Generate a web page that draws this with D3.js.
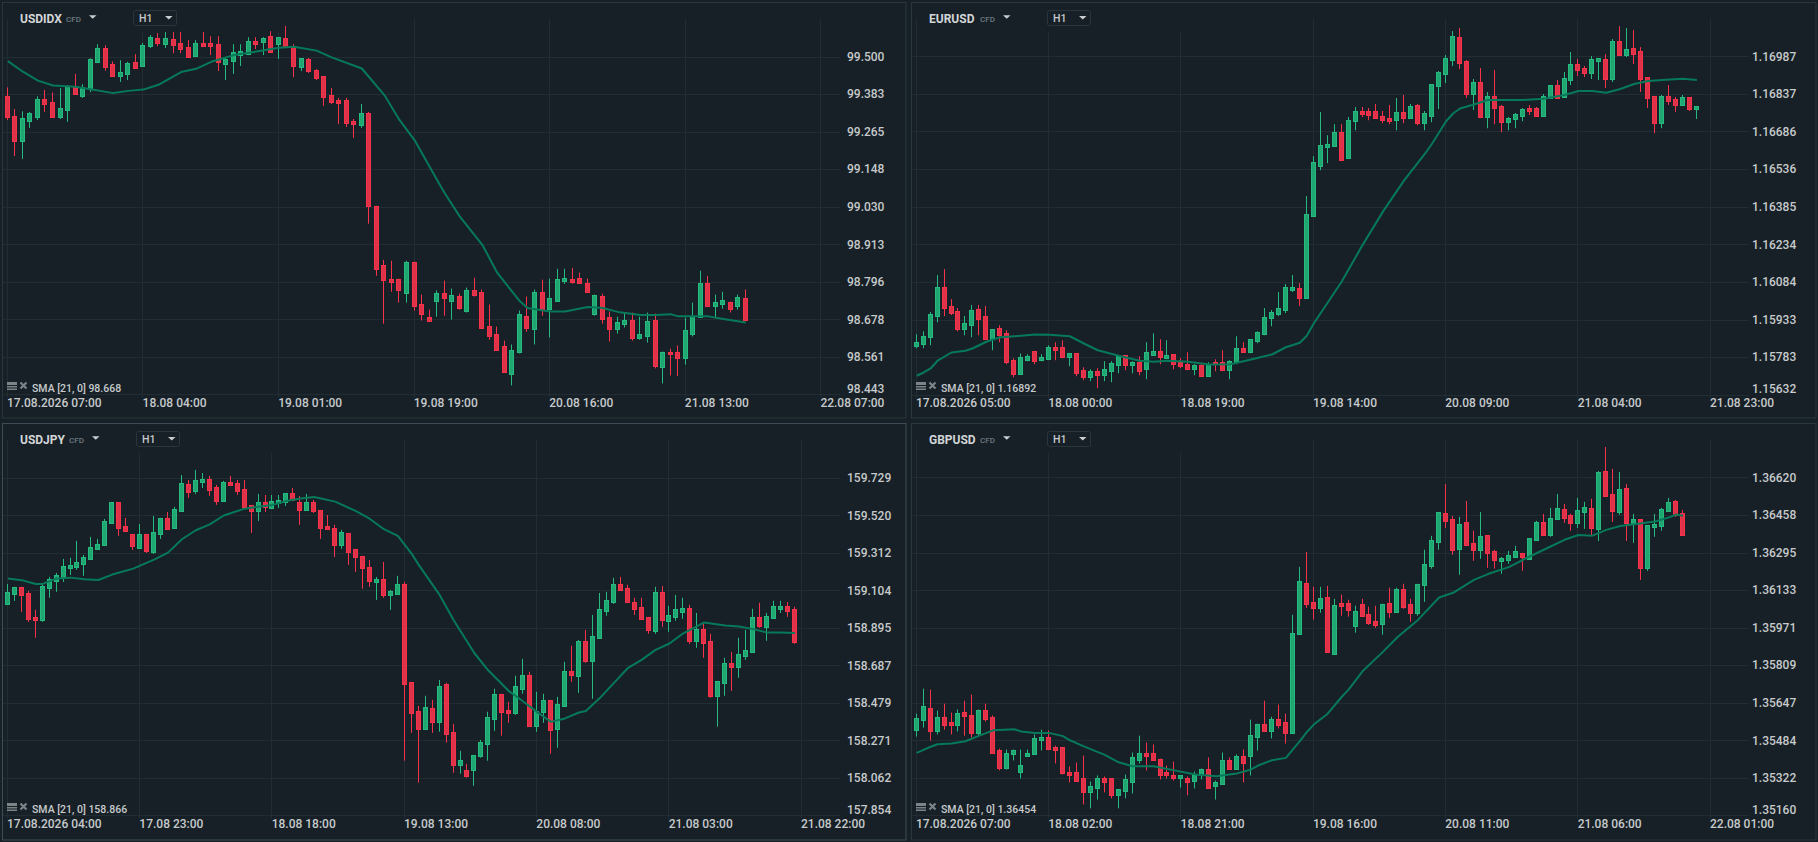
<!DOCTYPE html>
<html><head><meta charset="utf-8">
<script src="https://cdnjs.cloudflare.com/ajax/libs/d3/7.9.0/d3.min.js"></script>
<style>html,body{margin:0;padding:0;background:#172026;overflow:hidden}svg{display:block}text{font-family:Roboto,sans-serif}</style>
</head><body><svg id="c" width="1818" height="842"></svg>
<script>
// ---- values: each candle is [open, high, low, close] ----
const usdidxOhlc=[[99.377,99.404,99.302,99.312],[99.314,99.336,99.189,99.237],[99.237,99.329,99.180,99.308],[99.300,99.327,99.277,99.324],[99.312,99.376,99.302,99.368],[99.368,99.396,99.327,99.353],[99.358,99.388,99.312,99.312],[99.311,99.402,99.305,99.339],[99.334,99.411,99.296,99.408],[99.404,99.446,99.384,99.384],[99.377,99.414,99.371,99.404],[99.399,99.495,99.389,99.493],[99.483,99.539,99.480,99.527],[99.527,99.536,99.456,99.469],[99.477,99.485,99.441,99.441],[99.439,99.489,99.421,99.452],[99.446,99.484,99.427,99.480],[99.483,99.508,99.464,99.464],[99.471,99.543,99.471,99.536],[99.533,99.568,99.527,99.561],[99.558,99.574,99.533,99.543],[99.539,99.577,99.527,99.558],[99.555,99.577,99.511,99.536],[99.543,99.577,99.511,99.524],[99.530,99.552,99.496,99.499],[99.502,99.552,99.502,99.543],[99.543,99.577,99.533,99.533],[99.543,99.564,99.505,99.533],[99.539,99.564,99.455,99.483],[99.477,99.496,99.427,99.493],[99.486,99.539,99.446,99.514],[99.505,99.539,99.471,99.518],[99.510,99.561,99.505,99.549],[99.549,99.561,99.524,99.539],[99.546,99.561,99.505,99.558],[99.564,99.580,99.514,99.514],[99.539,99.561,99.493,99.561],[99.558,99.596,99.530,99.530],[99.530,99.539,99.436,99.471],[99.468,99.496,99.455,99.496],[99.493,99.496,99.449,99.455],[99.458,99.461,99.427,99.433],[99.439,99.439,99.346,99.374],[99.380,99.402,99.352,99.358],[99.364,99.371,99.289,99.355],[99.364,99.371,99.280,99.293],[99.299,99.305,99.246,99.289],[99.286,99.352,99.277,99.324],[99.324,99.327,98.977,99.033],[99.033,99.033,98.814,98.836],[98.849,98.864,98.664,98.802],[98.805,98.861,98.764,98.796],[98.805,98.805,98.730,98.768],[98.761,98.861,98.730,98.858],[98.858,98.858,98.705,98.721],[98.727,98.755,98.674,98.693],[98.686,98.708,98.674,98.674],[98.736,98.768,98.686,98.761],[98.761,98.799,98.689,98.743],[98.736,98.774,98.677,98.755],[98.752,98.758,98.708,98.714],[98.705,98.777,98.699,98.771],[98.768,98.808,98.749,98.755],[98.764,98.771,98.649,98.652],[98.658,98.724,98.614,98.627],[98.633,98.655,98.580,98.583],[98.593,98.611,98.510,98.514],[98.505,98.599,98.471,98.583],[98.577,98.705,98.571,98.693],[98.689,98.749,98.639,98.652],[98.646,98.771,98.599,98.764],[98.764,98.802,98.689,98.711],[98.711,98.805,98.621,98.743],[98.736,98.836,98.736,98.805],[98.799,98.836,98.789,98.808],[98.805,98.839,98.789,98.796],[98.808,98.824,98.789,98.793],[98.793,98.805,98.764,98.764],[98.693,98.755,98.689,98.755],[98.752,98.758,98.664,98.680],[98.686,98.702,98.608,98.646],[98.646,98.686,98.633,98.668],[98.664,98.696,98.652,98.677],[98.677,98.699,98.611,98.618],[98.618,98.686,98.614,98.633],[98.627,98.699,98.605,98.674],[98.677,98.696,98.524,98.533],[98.527,98.577,98.477,98.577],[98.577,98.586,98.502,98.568],[98.574,98.596,98.500,98.558],[98.558,98.683,98.536,98.643],[98.633,98.730,98.624,98.689],[98.686,98.830,98.686,98.793],[98.793,98.814,98.718,98.718],[98.718,98.755,98.680,98.733],[98.727,98.764,98.711,98.739],[98.733,98.733,98.699,98.711],[98.718,98.755,98.708,98.749],[98.743,98.771,98.677,98.677]];
const usdidxSmaBar=[0,2,4,6,9,11,14,16,18,20,23,25,27,30,33,36,38,41,43,47,50,52,54,57,58,60,63,65,68,69,72,74,77,79,81,84,86,88,89,93,95,98];
const usdidxSma=[99.486,99.453,99.425,99.410,99.406,99.398,99.386,99.393,99.397,99.412,99.452,99.462,99.484,99.505,99.516,99.528,99.531,99.519,99.498,99.463,99.380,99.302,99.239,99.114,99.073,99.000,98.911,98.823,98.734,98.713,98.702,98.702,98.716,98.713,98.701,98.691,98.691,98.694,98.687,98.687,98.679,98.668];
const usdidxTicks=[99.500,99.383,99.265,99.148,99.030,98.913,98.796,98.678,98.561,98.443];
const usdidxDates=["17.08.2026 07:00","18.08 04:00","19.08 01:00","19.08 19:00","20.08 16:00","21.08 13:00","22.08 07:00"];

const eurusdOhlc=[[1.15826,1.15874,1.15818,1.15842],[1.15834,1.15886,1.15818,1.15866],[1.15862,1.15963,1.15830,1.15955],[1.15947,1.16111,1.15922,1.16063],[1.16063,1.16135,1.15947,1.15979],[1.15987,1.16015,1.15951,1.15959],[1.15967,1.15979,1.15886,1.15894],[1.15894,1.15947,1.15870,1.15918],[1.15910,1.15991,1.15862,1.15971],[1.15975,1.15991,1.15870,1.15935],[1.15947,1.15987,1.15854,1.15854],[1.15854,1.15894,1.15810,1.15894],[1.15898,1.15910,1.15842,1.15870],[1.15878,1.15890,1.15754,1.15762],[1.15770,1.15778,1.15702,1.15714],[1.15714,1.15797,1.15714,1.15782],[1.15770,1.15794,1.15766,1.15786],[1.15806,1.15806,1.15754,1.15766],[1.15770,1.15794,1.15766,1.15782],[1.15774,1.15830,1.15774,1.15822],[1.15822,1.15842,1.15770,1.15810],[1.15822,1.15850,1.15778,1.15782],[1.15782,1.15798,1.15746,1.15798],[1.15798,1.15798,1.15706,1.15718],[1.15730,1.15742,1.15690,1.15702],[1.15702,1.15734,1.15686,1.15726],[1.15726,1.15738,1.15658,1.15710],[1.15710,1.15766,1.15686,1.15734],[1.15726,1.15766,1.15682,1.15758],[1.15750,1.15786,1.15718,1.15786],[1.15790,1.15790,1.15730,1.15750],[1.15750,1.15766,1.15718,1.15762],[1.15762,1.15786,1.15710,1.15726],[1.15734,1.15842,1.15694,1.15802],[1.15790,1.15878,1.15790,1.15806],[1.15806,1.15854,1.15754,1.15782],[1.15778,1.15850,1.15778,1.15790],[1.15794,1.15794,1.15734,1.15754],[1.15762,1.15778,1.15738,1.15746],[1.15754,1.15802,1.15730,1.15734],[1.15734,1.15754,1.15710,1.15750],[1.15750,1.15754,1.15706,1.15706],[1.15706,1.15762,1.15706,1.15754],[1.15762,1.15774,1.15726,1.15754],[1.15762,1.15810,1.15726,1.15730],[1.15730,1.15770,1.15694,1.15766],[1.15762,1.15866,1.15754,1.15818],[1.15818,1.15842,1.15802,1.15802],[1.15802,1.15854,1.15798,1.15854],[1.15846,1.15886,1.15838,1.15882],[1.15874,1.15979,1.15870,1.15943],[1.15939,1.15971,1.15906,1.15963],[1.15955,1.16043,1.15947,1.15979],[1.15971,1.16075,1.15959,1.16063],[1.16051,1.16111,1.16043,1.16063],[1.16059,1.16079,1.15987,1.16019],[1.16019,1.16427,1.16019,1.16355],[1.16347,1.16587,1.16347,1.16563],[1.16547,1.16764,1.16531,1.16631],[1.16623,1.16671,1.16559,1.16635],[1.16627,1.16715,1.16627,1.16683],[1.16683,1.16715,1.16571,1.16571],[1.16579,1.16744,1.16579,1.16731],[1.16727,1.16784,1.16691,1.16768],[1.16768,1.16784,1.16744,1.16756],[1.16768,1.16780,1.16731,1.16752],[1.16768,1.16796,1.16740,1.16740],[1.16748,1.16768,1.16719,1.16731],[1.16740,1.16792,1.16715,1.16727],[1.16731,1.16820,1.16691,1.16764],[1.16764,1.16832,1.16719,1.16740],[1.16740,1.16796,1.16736,1.16788],[1.16792,1.16796,1.16711,1.16719],[1.16719,1.16768,1.16691,1.16760],[1.16748,1.16876,1.16723,1.16876],[1.16868,1.16928,1.16776,1.16924],[1.16916,1.16992,1.16880,1.16980],[1.16972,1.17088,1.16948,1.17068],[1.17064,1.17100,1.16936,1.16960],[1.16968,1.16972,1.16820,1.16836],[1.16836,1.16896,1.16772,1.16884],[1.16884,1.16940,1.16740,1.16744],[1.16744,1.16844,1.16699,1.16828],[1.16828,1.16932,1.16715,1.16780],[1.16788,1.16792,1.16683,1.16723],[1.16723,1.16744,1.16691,1.16740],[1.16736,1.16760,1.16699,1.16756],[1.16748,1.16780,1.16727,1.16776],[1.16780,1.16792,1.16752,1.16768],[1.16780,1.16784,1.16744,1.16748],[1.16748,1.16836,1.16748,1.16828],[1.16820,1.16872,1.16820,1.16872],[1.16872,1.16892,1.16820,1.16820],[1.16824,1.16924,1.16824,1.16900],[1.16892,1.17004,1.16872,1.16956],[1.16956,1.16976,1.16908,1.16932],[1.16940,1.16948,1.16904,1.16920],[1.16920,1.16988,1.16896,1.16976],[1.16968,1.16980,1.16892,1.16980],[1.16976,1.16996,1.16860,1.16896],[1.16896,1.17056,1.16884,1.17048],[1.17048,1.17108,1.16992,1.16992],[1.16992,1.17100,1.16984,1.17016],[1.17020,1.17092,1.16956,1.16996],[1.17008,1.17024,1.16844,1.16896],[1.16904,1.16904,1.16780,1.16820],[1.16828,1.16828,1.16679,1.16719],[1.16719,1.16832,1.16699,1.16828],[1.16828,1.16872,1.16792,1.16808],[1.16816,1.16824,1.16764,1.16792],[1.16792,1.16832,1.16792,1.16824],[1.16824,1.16824,1.16768,1.16776],[1.16776,1.16788,1.16736,1.16788]];
const eurusdSmaBar=[0,1,2,3,5,7,8,10,12,15,17,19,22,24,26,29,32,34,36,39,42,45,48,51,53,55,56,57,61,64,67,70,73,74,76,77,78,80,82,84,87,90,93,95,97,99,101,103,105,107,110,112];
const eurusdSma=[1.15708,1.15721,1.15737,1.15768,1.15801,1.15808,1.15817,1.15844,1.15862,1.15868,1.15873,1.15872,1.15866,1.15837,1.15810,1.15788,1.15768,1.15764,1.15768,1.15764,1.15753,1.15754,1.15773,1.15793,1.15822,1.15840,1.15868,1.15917,1.16084,1.16231,1.16368,1.16491,1.16598,1.16638,1.16727,1.16758,1.16778,1.16794,1.16812,1.16812,1.16812,1.16817,1.16832,1.16848,1.16848,1.16841,1.16856,1.16876,1.16888,1.16892,1.16897,1.16892];
const eurusdTicks=[1.16987,1.16837,1.16686,1.16536,1.16385,1.16234,1.16084,1.15933,1.15783,1.15632];
const eurusdDates=["17.08.2026 05:00","18.08 00:00","18.08 19:00","19.08 14:00","20.08 09:00","21.08 04:00","21.08 23:00"];

const usdjpyOhlc=[[159.028,159.139,159.028,159.095],[159.084,159.123,159.045,159.123],[159.123,159.123,158.984,159.078],[159.089,159.100,158.928,158.945],[158.956,158.995,158.840,158.939],[158.939,159.134,158.928,159.128],[159.117,159.178,159.062,159.167],[159.156,159.200,159.095,159.189],[159.178,159.278,159.150,159.239],[159.228,159.284,159.189,159.245],[159.234,159.378,159.217,159.261],[159.250,159.300,159.184,159.289],[159.278,159.400,159.272,159.345],[159.334,159.389,159.328,159.361],[159.356,159.500,159.350,159.489],[159.478,159.594,159.478,159.594],[159.594,159.594,159.406,159.450],[159.461,159.506,159.433,159.433],[159.417,159.417,159.328,159.350],[159.339,159.472,159.339,159.417],[159.417,159.417,159.311,159.322],[159.317,159.517,159.306,159.428],[159.417,159.506,159.389,159.506],[159.506,159.539,159.445,159.445],[159.450,159.567,159.450,159.556],[159.544,159.744,159.544,159.700],[159.694,159.716,159.617,159.650],[159.655,159.772,159.639,159.716],[159.705,159.755,159.672,159.722],[159.722,159.739,159.628,159.661],[159.678,159.689,159.578,159.600],[159.600,159.711,159.594,159.705],[159.705,159.739,159.689,159.689],[159.700,159.716,159.633,159.655],[159.667,159.716,159.561,159.567],[159.578,159.578,159.422,159.544],[159.544,159.639,159.489,159.594],[159.594,159.633,159.539,159.567],[159.561,159.633,159.561,159.600],[159.589,159.633,159.561,159.605],[159.594,159.644,159.572,159.644],[159.644,159.672,159.605,159.605],[159.594,159.628,159.467,159.550],[159.550,159.639,159.550,159.594],[159.594,159.605,159.533,159.544],[159.550,159.550,159.389,159.450],[159.461,159.522,159.439,159.445],[159.450,159.467,159.289,159.356],[159.356,159.439,159.334,159.428],[159.422,159.422,159.245,159.317],[159.334,159.334,159.206,159.289],[159.295,159.295,159.112,159.228],[159.234,159.272,159.123,159.156],[159.150,159.178,159.050,159.167],[159.167,159.261,159.062,159.078],[159.078,159.106,158.995,159.100],[159.084,159.184,159.084,159.139],[159.139,159.150,158.157,158.584],[158.595,158.595,158.312,158.423],[158.434,158.462,158.035,158.335],[158.335,158.518,158.335,158.457],[158.451,158.495,158.312,158.373],[158.373,158.606,158.318,158.573],[158.584,158.590,158.257,158.307],[158.318,158.362,158.090,158.135],[158.135,158.212,158.085,158.162],[158.107,158.140,158.063,158.074],[158.107,158.190,158.018,158.190],[158.185,158.273,158.174,158.262],[158.251,158.429,158.157,158.401],[158.390,158.557,158.323,158.529],[158.529,158.529,158.296,158.429],[158.440,158.484,158.368,158.423],[158.423,158.629,158.412,158.573],[158.557,158.723,158.529,158.634],[158.634,158.651,158.351,158.351],[158.351,158.540,158.318,158.434],[158.429,158.529,158.368,158.495],[158.495,158.495,158.196,158.329],[158.335,158.512,158.229,158.473],[158.462,158.706,158.462,158.656],[158.656,158.795,158.595,158.634],[158.629,158.828,158.534,158.823],[158.823,158.884,158.701,158.712],[158.712,158.967,158.501,158.851],[158.840,159.089,158.834,159.001],[158.989,159.095,158.962,159.050],[159.039,159.173,159.028,159.139],[159.139,159.178,159.100,159.106],[159.117,159.134,159.039,159.039],[159.039,159.062,158.967,159.001],[159.012,159.062,158.939,158.945],[158.956,158.956,158.862,158.884],[158.878,159.123,158.862,159.095],[159.095,159.128,158.901,158.939],[158.934,159.017,158.873,158.967],[158.956,159.078,158.934,159.001],[158.984,159.062,158.945,159.006],[159.006,159.023,158.806,158.823],[158.823,158.978,158.784,158.890],[158.890,158.923,158.729,158.812],[158.823,158.862,158.507,158.518],[158.518,158.601,158.346,158.601],[158.590,158.729,158.518,158.701],[158.701,158.762,158.545,158.679],[158.679,158.840,158.618,158.751],[158.740,158.884,158.717,158.773],[158.762,159.001,158.762,158.956],[158.956,159.034,158.895,158.906],[158.901,158.978,158.823,158.962],[158.951,159.045,158.951,159.017],[159.001,159.045,158.978,159.017],[159.017,159.039,158.956,158.989],[159.001,159.012,158.806,158.817]];
const usdjpySmaBar=[0,2,4,5,7,9,11,13,15,18,21,23,25,27,29,31,34,36,38,40,42,44,47,50,52,54,56,58,59,60,62,64,67,69,72,74,76,78,80,82,83,85,87,89,91,93,95,97,100,103,105,107,109,111,113];
const usdjpySma=[159.169,159.160,159.139,159.139,159.169,159.174,159.165,159.161,159.191,159.224,159.274,159.313,159.387,159.437,159.470,159.519,159.557,159.568,159.578,159.600,159.613,159.622,159.596,159.543,159.500,159.443,159.406,159.306,159.245,159.189,159.078,158.939,158.754,158.658,158.542,158.486,158.427,158.373,158.392,158.425,158.433,158.505,158.588,158.671,158.717,158.773,158.808,158.865,158.925,158.908,158.902,158.888,158.869,158.869,158.866];
const usdjpyTicks=[159.729,159.520,159.312,159.104,158.895,158.687,158.479,158.271,158.062,157.854];
const usdjpyDates=["17.08.2026 04:00","17.08 23:00","18.08 18:00","19.08 13:00","20.08 08:00","21.08 03:00","21.08 22:00"];

const gbpusdOhlc=[[1.35530,1.35599,1.35500,1.35582],[1.35573,1.35707,1.35539,1.35630],[1.35625,1.35703,1.35483,1.35526],[1.35526,1.35612,1.35509,1.35586],[1.35586,1.35642,1.35530,1.35552],[1.35565,1.35604,1.35509,1.35552],[1.35552,1.35617,1.35522,1.35604],[1.35608,1.35655,1.35504,1.35591],[1.35595,1.35681,1.35496,1.35517],[1.35517,1.35617,1.35504,1.35617],[1.35617,1.35642,1.35565,1.35578],[1.35586,1.35591,1.35431,1.35431],[1.35444,1.35448,1.35354,1.35366],[1.35366,1.35444,1.35358,1.35431],[1.35423,1.35444,1.35397,1.35440],[1.35349,1.35444,1.35319,1.35379],[1.35418,1.35444,1.35414,1.35431],[1.35423,1.35509,1.35423,1.35496],[1.35487,1.35530,1.35440,1.35500],[1.35500,1.35526,1.35444,1.35448],[1.35457,1.35461,1.35384,1.35444],[1.35453,1.35453,1.35336,1.35341],[1.35345,1.35371,1.35302,1.35332],[1.35345,1.35388,1.35310,1.35310],[1.35323,1.35418,1.35207,1.35259],[1.35259,1.35306,1.35190,1.35285],[1.35276,1.35332,1.35228,1.35319],[1.35319,1.35328,1.35259,1.35306],[1.35319,1.35319,1.35233,1.35246],[1.35246,1.35272,1.35190,1.35272],[1.35263,1.35336,1.35233,1.35315],[1.35306,1.35431,1.35254,1.35410],[1.35397,1.35504,1.35384,1.35427],[1.35427,1.35474,1.35354,1.35414],[1.35427,1.35466,1.35397,1.35397],[1.35405,1.35405,1.35315,1.35336],[1.35345,1.35375,1.35319,1.35332],[1.35336,1.35392,1.35310,1.35319],[1.35319,1.35332,1.35280,1.35332],[1.35323,1.35328,1.35246,1.35306],[1.35310,1.35349,1.35276,1.35336],[1.35332,1.35362,1.35315,1.35362],[1.35362,1.35410,1.35280,1.35280],[1.35285,1.35310,1.35228,1.35306],[1.35297,1.35431,1.35297,1.35397],[1.35397,1.35410,1.35362,1.35362],[1.35362,1.35423,1.35358,1.35418],[1.35418,1.35444,1.35302,1.35384],[1.35418,1.35573,1.35332,1.35509],[1.35500,1.35556,1.35440,1.35556],[1.35556,1.35655,1.35522,1.35522],[1.35522,1.35586,1.35492,1.35578],[1.35578,1.35638,1.35535,1.35552],[1.35561,1.35599,1.35470,1.35517],[1.35517,1.36026,1.35517,1.35949],[1.35944,1.36233,1.35944,1.36173],[1.36164,1.36298,1.36056,1.36074],[1.36082,1.36147,1.36005,1.36056],[1.36056,1.36147,1.36035,1.36100],[1.36104,1.36151,1.35867,1.35867],[1.35858,1.36095,1.35858,1.36069],[1.36078,1.36113,1.36022,1.36065],[1.36078,1.36091,1.36018,1.36048],[1.35979,1.36065,1.35949,1.36044],[1.36074,1.36095,1.36022,1.36022],[1.36031,1.36061,1.35983,1.35992],[1.36000,1.36065,1.35970,1.35983],[1.35987,1.36074,1.35940,1.36074],[1.36078,1.36143,1.36013,1.36039],[1.36039,1.36143,1.36039,1.36138],[1.36138,1.36160,1.36052,1.36061],[1.36074,1.36095,1.35996,1.36035],[1.36035,1.36160,1.36022,1.36160],[1.36156,1.36307,1.36082,1.36246],[1.36238,1.36367,1.36225,1.36350],[1.36341,1.36470,1.36307,1.36470],[1.36466,1.36591,1.36401,1.36432],[1.36440,1.36453,1.36285,1.36307],[1.36311,1.36449,1.36199,1.36419],[1.36427,1.36518,1.36324,1.36328],[1.36337,1.36389,1.36259,1.36307],[1.36307,1.36470,1.36268,1.36367],[1.36371,1.36371,1.36229,1.36294],[1.36302,1.36307,1.36225,1.36263],[1.36259,1.36276,1.36203,1.36272],[1.36263,1.36302,1.36246,1.36285],[1.36276,1.36324,1.36272,1.36302],[1.36294,1.36294,1.36216,1.36276],[1.36268,1.36358,1.36268,1.36358],[1.36350,1.36432,1.36350,1.36427],[1.36427,1.36462,1.36371,1.36371],[1.36371,1.36488,1.36363,1.36445],[1.36440,1.36548,1.36440,1.36488],[1.36483,1.36505,1.36423,1.36445],[1.36458,1.36462,1.36389,1.36423],[1.36423,1.36531,1.36401,1.36479],[1.36470,1.36514,1.36397,1.36492],[1.36488,1.36527,1.36367,1.36401],[1.36397,1.36647,1.36345,1.36643],[1.36647,1.36751,1.36539,1.36539],[1.36548,1.36656,1.36427,1.36475],[1.36470,1.36643,1.36458,1.36570],[1.36574,1.36591,1.36345,1.36423],[1.36423,1.36462,1.36337,1.36440],[1.36440,1.36440,1.36177,1.36229],[1.36229,1.36414,1.36216,1.36414],[1.36406,1.36462,1.36363,1.36419],[1.36410,1.36488,1.36389,1.36483],[1.36475,1.36531,1.36475,1.36514],[1.36518,1.36522,1.36449,1.36458],[1.36466,1.36479,1.36371,1.36371]];
const gbpusdSmaBar=[0,2,3,5,7,9,11,14,15,17,19,21,22,24,27,29,31,34,37,40,43,46,48,49,51,53,55,56,57,59,61,62,64,67,69,72,75,77,80,82,85,88,91,93,95,97,99,101,103,106,108,109,110];
const gbpusdSma=[1.35430,1.35456,1.35467,1.35470,1.35480,1.35504,1.35527,1.35532,1.35522,1.35516,1.35516,1.35502,1.35484,1.35458,1.35421,1.35389,1.35372,1.35372,1.35354,1.35336,1.35329,1.35341,1.35358,1.35375,1.35398,1.35408,1.35480,1.35519,1.35552,1.35599,1.35671,1.35703,1.35782,1.35868,1.35929,1.36005,1.36101,1.36121,1.36177,1.36202,1.36232,1.36278,1.36321,1.36350,1.36371,1.36368,1.36393,1.36410,1.36417,1.36429,1.36447,1.36459,1.36454];
const gbpusdTicks=[1.36620,1.36458,1.36295,1.36133,1.35971,1.35809,1.35647,1.35484,1.35322,1.35160];
const gbpusdDates=["17.08.2026 07:00","18.08 02:00","18.08 21:00","19.08 16:00","20.08 11:00","21.08 06:00","22.08 01:00"];

const symbols=["USDIDX","EURUSD","USDJPY","GBPUSD"];
const smaLegends=["SMA [21, 0] 98.668","SMA [21, 0] 1.16892","SMA [21, 0] 158.866","SMA [21, 0] 1.36454"];

// ---- layout (not data) ----
const C={bg:"#172026",frame:"#2a363d",active:"#3b4c56",grid:"#212c33",up:"#1fa671",upLine:"#25bb80",down:"#dd3248",downLine:"#f8324a",sma:"#06795a",text:"#c6cacc",name:"#d3d6d8",muted:"#6d7a82",icon:"#7c8488"};
const panels=[
 {sym:0,ohlc:usdidxOhlc,bar:usdidxSmaBar,sma:usdidxSma,ticks:usdidxTicks,dates:usdidxDates,dx:0,dy:0,x0:7.33,xLast:820.7,span:108,step:18,y0:56.7,y1:394.3,fx:3,btn:133,lab:847,digits:3,active:false},
 {sym:1,ohlc:eurusdOhlc,bar:eurusdSmaBar,sma:eurusdSma,ticks:eurusdTicks,dates:eurusdDates,dx:909,dy:0,x0:7.2,xLast:801.3,span:114,step:19,y0:56.3,y1:394.7,fx:3,btn:138,lab:843,digits:5,active:false},
 {sym:2,ohlc:usdjpyOhlc,bar:usdjpySmaBar,sma:usdjpySma,ticks:usdjpyTicks,dates:usdjpyDates,dx:0,dy:421,x0:7.33,xLast:801.3,span:114,step:19,y0:56.7,y1:394.3,fx:3,btn:136,lab:847,digits:3,active:true},
 {sym:3,ohlc:gbpusdOhlc,bar:gbpusdSmaBar,sma:gbpusdSma,ticks:gbpusdTicks,dates:gbpusdDates,dx:909,dy:421,x0:7.2,xLast:801.3,span:114,step:19,y0:56.3,y1:394.3,fx:3,btn:138,lab:843,digits:5,active:false}
];
const svg=d3.select("#c");
svg.append("rect").attr("width",1818).attr("height",842).attr("fill",C.bg);

panels.slice().sort((a,b)=>a.active-b.active).forEach(p=>{
 const g=svg.append("g").attr("transform",`translate(${p.dx},${p.dy})`);
 const pw=p.dx?904.5:903.5, ph=p.dy?416.5:415.5;
 g.append("rect").attr("x",2.5).attr("y",2.5).attr("width",pw).attr("height",ph)
  .attr("fill",C.bg).attr("stroke",p.active?C.active:C.frame);
 const x=d3.scaleLinear().domain([0,p.span]).range([p.x0,p.xLast]);
 const y=d3.scaleLinear().domain([p.ticks[p.ticks.length-1],p.ticks[0]]).range([p.y1,p.y0]);
 const px=v=>Math.floor(v)+.5, py=v=>Math.round(v)+.5;
 const gridX=d3.range(0,p.span+1,p.step);
 // grid
 g.append("g").selectAll("line").data(p.ticks).join("line")
  .attr("x1",3).attr("x2",840).attr("y1",d=>py(y(d))).attr("y2",d=>py(y(d)))
  .attr("stroke",C.grid);
 g.append("g").selectAll("line").data(gridX).join("line")
  .attr("x1",d=>px(x(d))).attr("x2",d=>px(x(d)))
  .attr("y1",(d,i)=>(i>0&&x(d)<300)?32:19).attr("y2",py(p.y1)+3)
  .attr("stroke",C.grid);
 // candles
 const isUp=d=>d[3]>=d[0];
 const cg=g.append("g").selectAll("g").data(p.ohlc).join("g");
 cg.append("line").attr("x1",(d,i)=>px(x(i))).attr("x2",(d,i)=>px(x(i)))
  .attr("y1",d=>y(d[1])).attr("y2",d=>y(d[2]))
  .attr("stroke",d=>isUp(d)?C.upLine:C.downLine).attr("stroke-width",1);
 cg.append("rect").attr("x",(d,i)=>px(x(i))-2).attr("width",4)
  .attr("y",d=>py(y(Math.max(d[0],d[3]))))
  .attr("height",d=>Math.max(1,Math.round(y(Math.min(d[0],d[3])))-Math.round(y(Math.max(d[0],d[3])))))
  .attr("fill",d=>isUp(d)?C.up:C.down).attr("stroke",d=>isUp(d)?C.upLine:C.downLine);
 // SMA
 const line=d3.line().x((d,i)=>x(p.bar[i])+.5).y(d=>y(d));
 g.append("path").attr("d",line(p.sma)).attr("fill","none").attr("stroke",C.sma).attr("stroke-width",2).attr("stroke-linejoin","round");
 // price labels
 g.append("g").selectAll("text").data(p.ticks).join("text")
  .attr("x",p.lab).attr("y",(d,i)=>Math.min(y(d),389)).attr("dy","0.36em")
  .attr("font-size",12).attr("font-weight",500).attr("fill",C.text)
  .text(d=>d.toFixed(p.digits));
 // date labels
 g.append("g").selectAll("text").data(p.dates).join("text")
  .attr("x",(d,i)=>x(gridX[i])-.3).attr("y",402.5).attr("dy","0.36em")
  .attr("font-size",12).attr("font-weight",500).attr("fill",C.text).text(d=>d);
 // header
 g.append("text").attr("x",20).attr("y",18.5).attr("dy","0.36em").attr("font-size",12).attr("font-weight",700).attr("fill",C.name).text(symbols[p.sym]);
 g.append("text").attr("x",p.btn-67).attr("y",19.5).attr("dy","0.36em").attr("font-size",8).attr("font-weight",500).attr("fill",C.muted).text("CFD");
 const tri=(tx,ty)=>g.append("path").attr("d",`M${tx},${ty}h7.5l-3.75,3.5z`).attr("fill","#c9cdcf");
 tri(p.btn-44,15.3);
 g.append("rect").attr("x",p.btn+.5).attr("y",10.5).attr("width",43).attr("height",15).attr("rx",2).attr("fill",C.bg).attr("stroke","#2a353c");
 g.append("text").attr("x",p.btn+6).attr("y",18.3).attr("dy","0.36em").attr("font-size",10.5).attr("font-weight",500).attr("fill",C.text).text("H1");
 tri(p.btn+32,16);
 // legend
 const ic=g.append("g").attr("fill",C.icon);
 ic.append("rect").attr("x",7).attr("y",382).attr("width",10).attr("height",3);
 ic.append("rect").attr("x",7).attr("y",386).attr("width",10).attr("height",1.5);
 ic.append("rect").attr("x",7).attr("y",388.5).attr("width",10).attr("height",1.5);
 g.append("path").attr("d","M20.5,382.5l6,6M26.5,382.5l-6,6").attr("stroke",C.icon).attr("stroke-width",2.2).attr("fill","none");
 g.append("text").attr("x",32).attr("y",388.5).attr("dy","0.36em").attr("font-size",10.5).attr("font-weight",500).attr("fill",C.text).text(smaLegends[p.sym]);
});
</script></body></html>
